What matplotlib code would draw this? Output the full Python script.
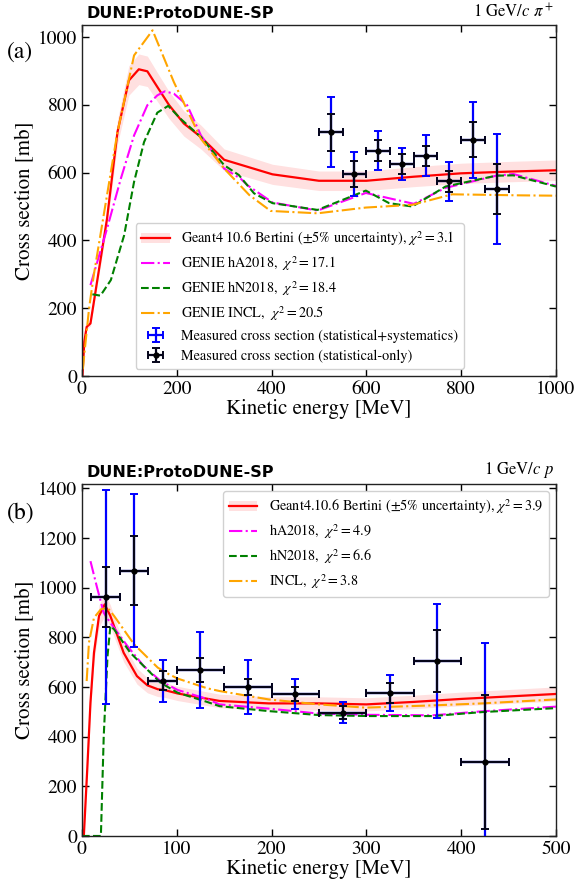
import matplotlib
matplotlib.use("Agg")
import matplotlib.pyplot as plt
import numpy as np

plt.rcParams['font.family'] = ['STIXGeneral', 'DejaVu Serif']
plt.rcParams['mathtext.fontset'] = 'stix'

# ---------------- Panel (a): 1 GeV/c pi+ ----------------
a_g4_x = [1, 5, 10, 18, 53, 75, 99, 120, 138, 159, 184, 215, 251, 300, 402, 500, 600, 700, 800, 900, 1000]
a_g4_y = [0, 101, 145, 155, 465, 720, 872, 905, 899, 853, 799, 745, 705, 638, 595, 576, 576, 588, 598, 603, 607]

a_ha_x = [18, 53, 82, 110, 138, 159, 175, 194, 222, 251, 300, 335, 349, 402, 497, 599, 700, 767, 874, 910, 1000]
a_ha_y = [268, 435, 582, 710, 799, 828, 840, 833, 799, 710, 612, 582, 563, 512, 488, 540, 508, 555, 591, 596, 561]

a_hn_x = [22, 39, 61, 89, 110, 131, 159, 182, 208, 251, 300, 331, 363, 402, 497, 599, 648, 697, 767, 874, 910, 1000]
a_hn_y = [241, 237, 283, 415, 573, 690, 777, 797, 759, 705, 622, 593, 539, 510, 490, 547, 510, 500, 559, 591, 592, 559]

a_incl_x = [2, 4, 15, 25, 75, 110, 149, 194, 251, 300, 353, 398, 497, 599, 697, 781, 831, 923, 1000]
a_incl_y = [20, 50, 199, 298, 720, 946, 1020, 867, 700, 612, 534, 487, 480, 497, 505, 536, 535, 533, 532]

a_data_x = [525, 575, 625, 675, 725, 775, 825, 875]
a_data_xerr = [25, 25, 25, 25, 25, 25, 25, 25]
a_data_y = [719, 596, 665, 626, 650, 574, 697, 551]
a_data_stat = [55, 38, 31, 29, 30, 32, 52, 74]
a_data_tot = [103, 66, 58, 48, 60, 57, 112, 163]

a_labels = [r"Geant4 10.6 Bertini ($\pm$5% uncertainty), $\chi^2 = 3.1$",
            r"GENIE hA2018,  $\chi^2 = 17.1$",
            r"GENIE hN2018,  $\chi^2 = 18.4$",
            r"GENIE INCL,  $\chi^2 = 20.5$",
            "Measured cross section (statistical+systematics)",
            "Measured cross section (statistical-only)"]

# ---------------- Panel (b): 1 GeV/c p ----------------
b_g4_x = [2, 5.6, 9, 12.7, 18, 24, 30, 44, 58, 69, 80, 87, 101, 145, 197, 250, 300, 350, 400, 450, 500]
b_g4_y = [0, 268, 537, 738, 886, 933, 886, 738, 644, 607, 591, 588, 574, 544, 534, 534, 530, 540, 552, 562, 572]

b_ha_x = [9, 16, 23, 30, 48, 65, 83, 101, 132, 145, 197, 250, 303, 370, 422, 500]
b_ha_y = [1107, 1000, 899, 859, 765, 685, 624, 588, 552, 530, 513, 493, 488, 486, 502, 521]

b_hn_x = [0, 20, 23, 27, 30, 34, 51, 65, 83, 101, 132, 145, 197, 250, 303, 370, 422, 500]
b_hn_y = [0, 0, 403, 725, 846, 832, 738, 685, 617, 577, 540, 523, 503, 487, 483, 483, 499, 515]

b_incl_x = [5, 7.4, 12.7, 20, 27, 34, 55, 80, 92, 101, 132, 145, 197, 250, 299, 370, 422, 500]
b_incl_y = [624, 779, 879, 913, 919, 886, 772, 678, 651, 634, 595, 584, 550, 530, 517, 526, 534, 550]

b_data_x = [25, 55, 85, 125, 175, 225, 275, 325, 375, 425]
b_data_xerr = [15, 15, 15, 25, 25, 25, 25, 25, 25, 25]
b_data_y = [963, 1069, 625, 668, 599, 572, 497, 576, 704, 297]
b_data_stat = [122, 139, 38, 47, 33, 28, 26, 41, 125, 269]
b_data_tot = [432, 307, 84, 153, 109, 62, 41, 74, 230, 482]

b_labels = [r"Geant4.10.6 Bertini ($\pm$5% uncertainty), $\chi^2 = 3.9$",
            r"hA2018,  $\chi^2 = 4.9$",
            r"hN2018,  $\chi^2 = 6.6$",
            r"INCL,  $\chi^2 = 3.8$"]

fig = plt.figure(figsize=(5.77, 8.88), dpi=100)
ax1 = fig.add_axes([0.142, 0.5766, 0.8215, 0.395])
ax2 = fig.add_axes([0.142, 0.0586, 0.8215, 0.3964])


def draw(ax, g4x, g4y, hax, hay, hnx, hny, ix, iy, dx, dxe, dy, dst, dto, with_data_legend):
    g4x = np.array(g4x, float)
    g4y = np.array(g4y, float)
    band = ax.fill_between(g4x, g4y * 0.95, g4y * 1.05, color='red', alpha=0.12, lw=0)
    l1, = ax.plot(g4x, g4y, color='red', lw=1.6)
    l2, = ax.plot(hax, hay, color='magenta', lw=1.5, ls='-.')
    l3, = ax.plot(hnx, hny, color='green', lw=1.5, ls='--')
    l4, = ax.plot(ix, iy, color='orange', lw=1.5, ls='-.')
    e1 = ax.errorbar(dx, dy, xerr=dxe, yerr=dto, fmt='none', ecolor='blue',
                     elinewidth=1.6, capsize=3, capthick=1.4, zorder=3)
    e2 = ax.errorbar(dx, dy, xerr=dxe, yerr=dst, fmt='o', color='black', ms=3.5,
                     ecolor='#05051a', elinewidth=1.6, capsize=3, capthick=1.4, zorder=4)
    handles = [(band, l1), l2, l3, l4]
    if with_data_legend:
        handles += [e1, e2]
    return handles


h1 = draw(ax1, a_g4_x, a_g4_y, a_ha_x, a_ha_y, a_hn_x, a_hn_y, a_incl_x, a_incl_y,
          a_data_x, a_data_xerr, a_data_y, a_data_stat, a_data_tot, True)
h2 = draw(ax2, b_g4_x, b_g4_y, b_ha_x, b_ha_y, b_hn_x, b_hn_y, b_incl_x, b_incl_y,
          b_data_x, b_data_xerr, b_data_y, b_data_stat, b_data_tot, False)

leg_kw = dict(fontsize=10.3, labelspacing=0.45, edgecolor='#cccccc', framealpha=0.9,
              handletextpad=0.8)
ax1.legend(h1, a_labels, loc='lower left', bbox_to_anchor=(0.098, 0.0), **leg_kw)
ax2.legend(h2, b_labels, loc='upper right', **leg_kw)

ax1.set_xlim(0, 1000)
ax1.set_ylim(0, 1035)
ax1.set_xticks([0, 200, 400, 600, 800, 1000])
ax1.set_yticks([0, 200, 400, 600, 800, 1000])
ax2.set_xlim(0, 500)
ax2.set_ylim(0, 1418)
ax2.set_xticks([0, 100, 200, 300, 400, 500])
ax2.set_yticks([0, 200, 400, 600, 800, 1000, 1200, 1400])

for ax, tag, beam, ypos in [(ax1, '(a)', r'1 GeV/$c$ $\pi^+$', 52), (ax2, '(b)', r'1 GeV/$c$ $p$', 513)]:
    ax.tick_params(direction='in', top=True, right=True, labelsize=14, length=5, width=1)
    for s in ax.spines.values():
        s.set_linewidth(1.0)
        s.set_color('#222222')
    ax.set_xlabel('Kinetic energy [MeV]', fontsize=15, labelpad=1)
    ax.set_ylabel('Cross section [mb]', fontsize=15, labelpad=2)
    ax.text(0.01, 1.012, 'DUNE:ProtoDUNE-SP', transform=ax.transAxes, ha='left', va='bottom',
            fontsize=11.5, fontweight='bold', family='DejaVu Sans')
    ax.text(0.995, 1.012, beam, transform=ax.transAxes, ha='right', va='bottom', fontsize=12)
    fig.text(0.012, 1 - ypos / 888, tag, ha='left', va='center', fontsize=17)

fig.savefig('out.png', dpi=100)
